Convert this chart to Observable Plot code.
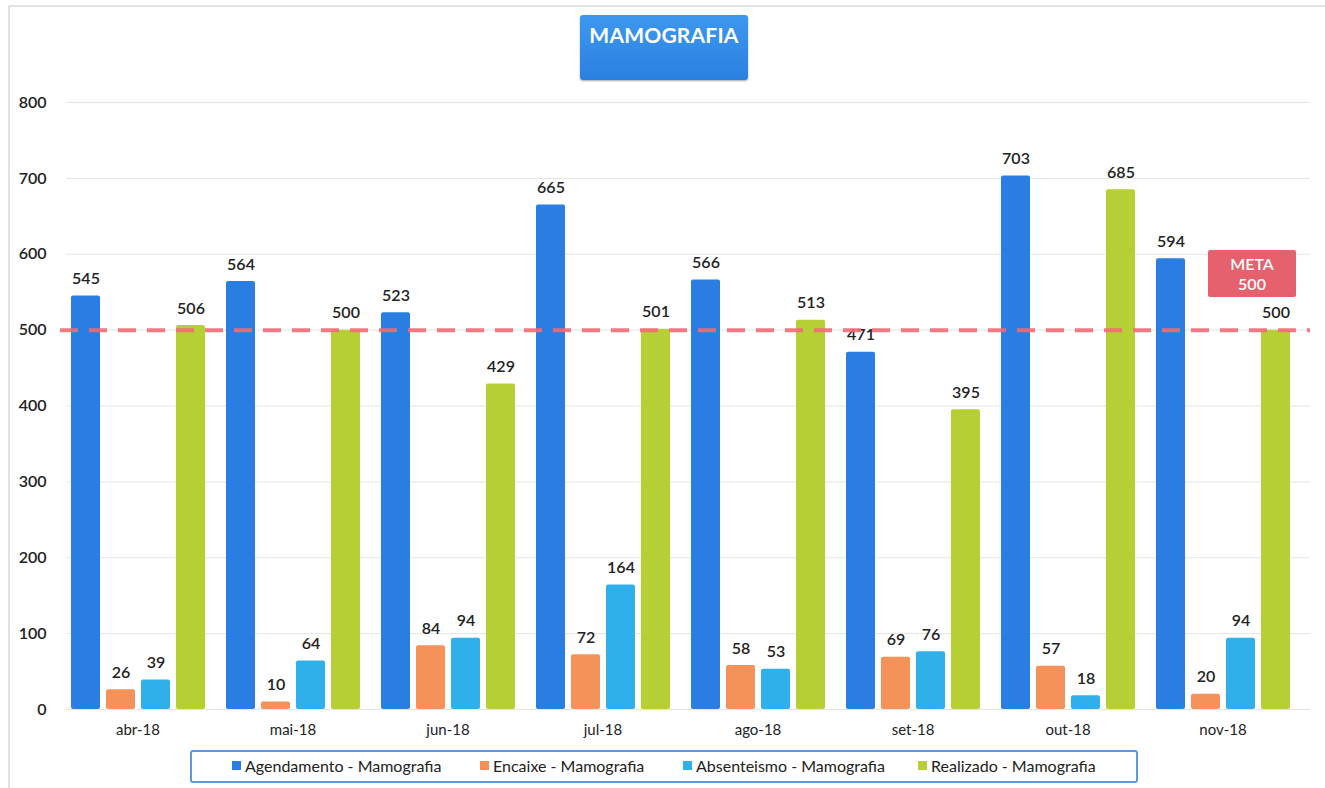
<!DOCTYPE html>
<html>
<head>
<meta charset="utf-8">
<script src="https://cdn.jsdelivr.net/npm/d3@7"></script>
<script src="https://cdn.jsdelivr.net/npm/@observablehq/plot@0.6"></script>
<style>
  html, body { margin: 0; padding: 0; background: #fff; }
  #wrap { position: relative; width: 1325px; height: 788px; font-family: Lato, "Open Sans", sans-serif; overflow: hidden; }
  #border { position: absolute; left: 8px; top: 5px; width: 1330px; height: 800px; border: 2px solid #e2e2e2; box-sizing: border-box; }
  #title { position: absolute; left: 580px; top: 15px; width: 168px; height: 65px; background: linear-gradient(#3d98ef, #2a80e0); border-radius: 3px; box-shadow: 0 1px 2px rgba(0,0,0,0.35); color: #fff; font-weight: 700; font-size: 21px; text-align: center; line-height: 40px; letter-spacing: 0.2px; }
  #meta { position: absolute; left: 1208px; top: 250px; width: 88px; height: 47px; background: #e2505e; border-radius: 2px; color: #fff; font-weight: 600; font-size: 16px; text-align: center; line-height: 20px; padding-top: 4px; box-sizing: border-box; opacity: 0.9; }
  #legend { position: absolute; left: 190px; top: 750px; width: 948px; height: 33px; border: 2px solid #5a9be0; border-radius: 3px; box-sizing: border-box; font-size: 16px; color: #222; }
  .item { position: absolute; display: flex; align-items: center; top: 4px; }
  .sw { width: 9px; height: 9px; margin-right: 4px; display: inline-block; }
  .layer { position: absolute; left: 0; top: 0; }
</style>
</head>
<body>
<div id="wrap">
  <div id="bg" class="layer"></div>
  <div id="chart" class="layer"></div>
  <div id="fg" class="layer"></div>
  <div id="border"></div>
  <div id="title">MAMOGRAFIA</div>
  <div id="meta">META<br>500</div>
  <div id="legend"></div>
</div>
<script>
const months = ["abr-18", "mai-18", "jun-18", "jul-18", "ago-18", "set-18", "out-18", "nov-18"];
const seriesNames = ["Agendamento - Mamografia", "Encaixe - Mamografia", "Absenteismo - Mamografia", "Realizado - Mamografia"];
const agendamento = [545, 564, 523, 665, 566, 471, 703, 594];
const encaixe = [26, 10, 84, 72, 58, 69, 57, 20];
const absenteismo = [39, 64, 94, 164, 53, 76, 18, 94];
const realizado = [506, 500, 429, 501, 513, 395, 685, 500];
const meta = 500;
const yTicks = [0, 100, 200, 300, 400, 500, 600, 700, 800];
const colors = ["#2a7de1", "#f5925a", "#30b0ea", "#b6cf35"];

const seriesValues = [agendamento, encaixe, absenteismo, realizado];
const data = [];
months.forEach((m, i) => {
  seriesNames.forEach((s, j) => {
    data.push({month: m, series: s, value: seriesValues[j][i]});
  });
});

const common = {
  width: 1325,
  height: 788,
  marginTop: 102,
  marginBottom: 79,
  style: {fontFamily: "Lato, 'Open Sans', sans-serif", background: "transparent"},
  y: {domain: [0, 800], ticks: yTicks, label: null}
};

// background: grid + y axis, spanning the whole plot width
const bg = Plot.plot({
  ...common,
  marginLeft: 66,
  marginRight: 15,
  marks: [
    Plot.gridY(yTicks, {stroke: "#d8d8d8", strokeOpacity: 0.7}),
    Plot.axisY(yTicks, {tickSize: 0, tickPadding: 20, fontSize: 16, fontWeight: 600, fill: "#222", label: null})
  ]
});
document.getElementById("bg").appendChild(bg);

// main: grouped bars
const chart = Plot.plot({
  ...common,
  marginLeft: 56,
  marginRight: 21,
  fx: {domain: months, paddingInner: 0.13, paddingOuter: 0.068, label: null},
  x: {domain: seriesNames, padding: 0.18, paddingOuter: 0, axis: null},
  color: {domain: seriesNames, range: colors},
  marks: [
    Plot.axisY({ticks: [], label: null}),
    Plot.axisFx({anchor: "bottom", tickSize: 0, tickPadding: 15, fontSize: 15, fill: "#222", label: null}),
    Plot.barY(data, {fx: "month", x: "series", y: "value", fill: "series", rx: 2}),
    Plot.text(data, {fx: "month", x: "series", y: "value", text: d => String(d.value), dy: -17, fontSize: 16, fontWeight: 600, fill: "#222"})
  ]
});
document.getElementById("chart").appendChild(chart);

// foreground: meta line
const fg = Plot.plot({
  ...common,
  marginLeft: 60,
  marginRight: 15,
  marks: [
    Plot.ruleY([meta], {stroke: "#f26a76", strokeWidth: 4, strokeDasharray: "18,11", strokeOpacity: 0.9})
  ],
  y: {domain: [0, 800], axis: null}
});
document.getElementById("fg").appendChild(fg);

const legend = document.getElementById("legend");
const lx = [40, 288, 491, 726];
seriesNames.forEach((s, i) => {
  const it = document.createElement("div");
  it.className = "item";
  it.style.left = lx[i] + "px";
  const sw = document.createElement("span");
  sw.className = "sw";
  sw.style.background = colors[i];
  it.appendChild(sw);
  const t = document.createElement("span");
  t.textContent = s;
  it.appendChild(t);
  legend.appendChild(it);
});
</script>
</body>
</html>
